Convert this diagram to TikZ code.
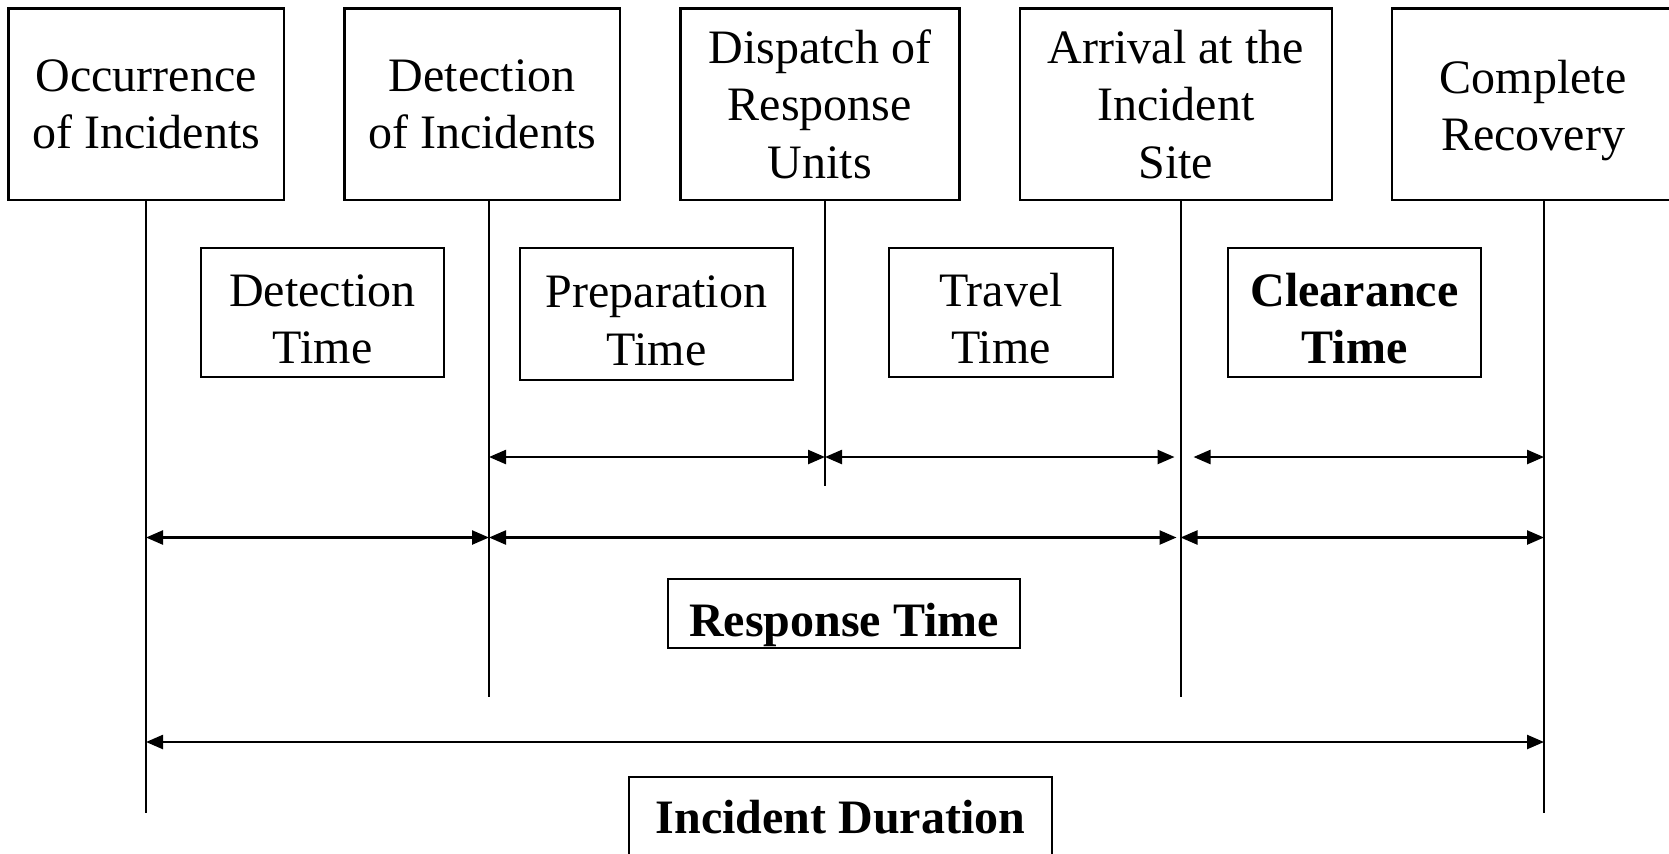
\documentclass[tikz,border=0pt]{standalone}
\usepackage{fontspec}
\setmainfont{Liberation Serif}
\usetikzlibrary{arrows.meta,positioning}

\tikzset{
    stage/.style={draw, line width=1.2pt, align=center, inner sep=0pt,
        minimum height=95.75pt, font=\fontsize{24}{28.75}\selectfont},
    period/.style={draw, line width=1.2pt, align=center, inner sep=0pt,
        minimum height=64.5pt, font=\fontsize{24}{28.75}\selectfont},
    timeline/.style={line width=1pt},
    spanarrow/.style={line width=1.2pt,
        {Triangle[length=8.5pt,width=7pt]}-{Triangle[length=8.5pt,width=7pt]}}
}
\newcommand{\drop}{\rule{0pt}{22.7pt}}

\begin{document}
\begin{tikzpicture}[x=0.5pt, y=-0.5pt]
    \useasboundingbox (0,0) rectangle (1669,853);

    % events
    \node[stage, minimum width=137.75pt] (occur) at (146.25,104.25) {Occurrence\\of Incidents};
    \node[stage, minimum width=137.75pt, right=29pt of occur] (detect) {Detection\\of Incidents};
    \node[stage, minimum width=139.5pt, right=29pt of detect] (dispatch) {Dispatch of\\Response\\Units};
    \node[stage, minimum width=156pt, right=29pt of dispatch] (arrive) {Arrival at the\\Incident\\Site};
    \node[stage, minimum width=141pt, right=29pt of arrive] (recover) {\drop Complete\\Recovery};

    % periods
    \node[period, minimum width=121.5pt] (dettime) at (322.5,312.5) {\drop Detection\\Time};
    \node[period, minimum width=136.5pt, minimum height=66pt] (preptime) at (656.5,314) {\drop Preparation\\Time};
    \node[period, minimum width=112pt] (travtime) at (1001,312.5) {\drop Travel\\Time};
    \node[period, minimum width=126.5pt] (cleartime) at (1354.5,312.5) {\drop\bfseries Clearance\\\bfseries Time};
    \node[period, minimum width=176pt, minimum height=34.5pt, text height=23pt, text depth=0pt]
        (resptime) at (844,613.5) {\bfseries Response Time};
    \node[period, minimum width=211.5pt, minimum height=47pt, text height=16pt, text depth=6.7pt]
        (duration) at (840.5,823.7) {\bfseries Incident Duration};

    % time lines
    \coordinate (t1) at (146,813);
    \coordinate (t2) at (489,697);
    \coordinate (t3) at (825,486);
    \coordinate (t4) at (1180.5,697);
    \coordinate (t5) at (1544,813);
    \draw[timeline] (t1 |- occur.south) -- (t1);
    \draw[timeline] (t2 |- detect.south) -- (t2);
    \draw[timeline] (t3 |- dispatch.south) -- (t3);
    \draw[timeline] (t4 |- arrive.south) -- (t4);
    \draw[timeline] (t5 |- recover.south) -- (t5);

    % spans
    \coordinate (r1) at (0,457);
    \coordinate (r2) at (0,537.5);
    \coordinate (r3) at (0,742);
    \draw[spanarrow] (t2 |- r1) -- (t3 |- r1);
    \draw[spanarrow, shorten >=3pt] (t3 |- r1) -- (t4 |- r1);
    \draw[spanarrow, shorten <=6.5pt] (t4 |- r1) -- (t5 |- r1);
    \draw[spanarrow] (t1 |- r2) -- (t2 |- r2);
    \draw[spanarrow, shorten >=2pt] (t2 |- r2) -- (t4 |- r2);
    \draw[spanarrow] (t4 |- r2) -- (t5 |- r2);
    \draw[spanarrow] (t1 |- r3) -- (t5 |- r3);
\end{tikzpicture}
\end{document}
